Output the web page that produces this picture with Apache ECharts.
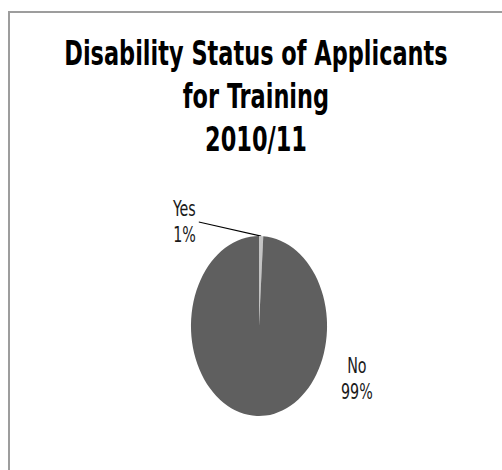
<!DOCTYPE html>
<html>
<head>
<meta charset="utf-8">
<script src="https://cdn.jsdelivr.net/npm/echarts@6/dist/echarts.min.js"></script>
<style>
  html, body { margin: 0; padding: 0; background: #fff; overflow: hidden; width: 502px; height: 470px; }
  #page { position: relative; width: 502px; height: 470px; overflow: hidden; }
  #frame { position: absolute; left: 8px; top: 11px; width: 800px; height: 800px; border: 2px solid #9d9d9d; }
  /* the chart is laid out wide, then squeezed horizontally so the pie becomes an upright ellipse */
  #chart { position: absolute; left: 0; top: 0; width: 664px; height: 470px; transform: scaleX(0.756); transform-origin: 0 0; }
</style>
</head>
<body>
<div id="page">
  <div id="frame"></div>
  <div id="chart"></div>
</div>
<script>
// Disability status of training applicants, 2010/11 (share of applicants, %)
const titleLines = ['Disability Status of Applicants', 'for Training', '2010/11'];
const categories = ['Yes', 'No'];
const shares = [1, 99];
const sliceColors = ['#c4c4c4', '#5f5f5f'];

const narrow = '"DejaVu Sans Condensed", "Liberation Sans Narrow", "Liberation Sans", Arial, sans-serif';

const chart = echarts.init(document.getElementById('chart'), null, { renderer: 'svg' });

chart.setOption({
  animation: false,
  backgroundColor: 'transparent',
  title: {
    text: titleLines.join('\n'),
    left: 338.6,
    top: 32,
    padding: 0,
    textAlign: 'center',
    textStyle: {
      fontFamily: narrow,
      fontWeight: 'bold',
      fontSize: 33,
      lineHeight: 43,
      color: '#000'
    }
  },
  series: [{
    type: 'pie',
    center: [342.6, 326],
    radius: 90,
    startAngle: 90,
    clockwise: true,
    avoidLabelOverlap: false,
    silent: true,
    emphasis: { disabled: true },
    itemStyle: { borderWidth: 0 },
    label: {
      show: true,
      position: 'outside',
      formatter: '{b}\n{d}%',
      fontFamily: narrow,
      fontSize: 21,
      lineHeight: 26,
      color: '#1a1a1a'
    },
    labelLine: {
      show: true,
      lineStyle: { color: '#000', width: 1.2 }
    },
    labelLayout: function (params) {
      if (params.dataIndex === 0) {
        const edge = params.labelLinePoints ? params.labelLinePoints[0] : null;
        return {
          x: 259, y: 222, align: 'right', verticalAlign: 'middle',
          labelLinePoints: edge ? [edge, [263, 222], [263, 222]] : undefined
        };
      }
      return { x: 472, y: 379, align: 'center', verticalAlign: 'middle' };
    },
    data: categories.map((name, i) => ({
      name: name,
      value: shares[i],
      itemStyle: { color: sliceColors[i] },
      labelLine: { show: i === 0 }
    }))
  }]
});
</script>
</body>
</html>
